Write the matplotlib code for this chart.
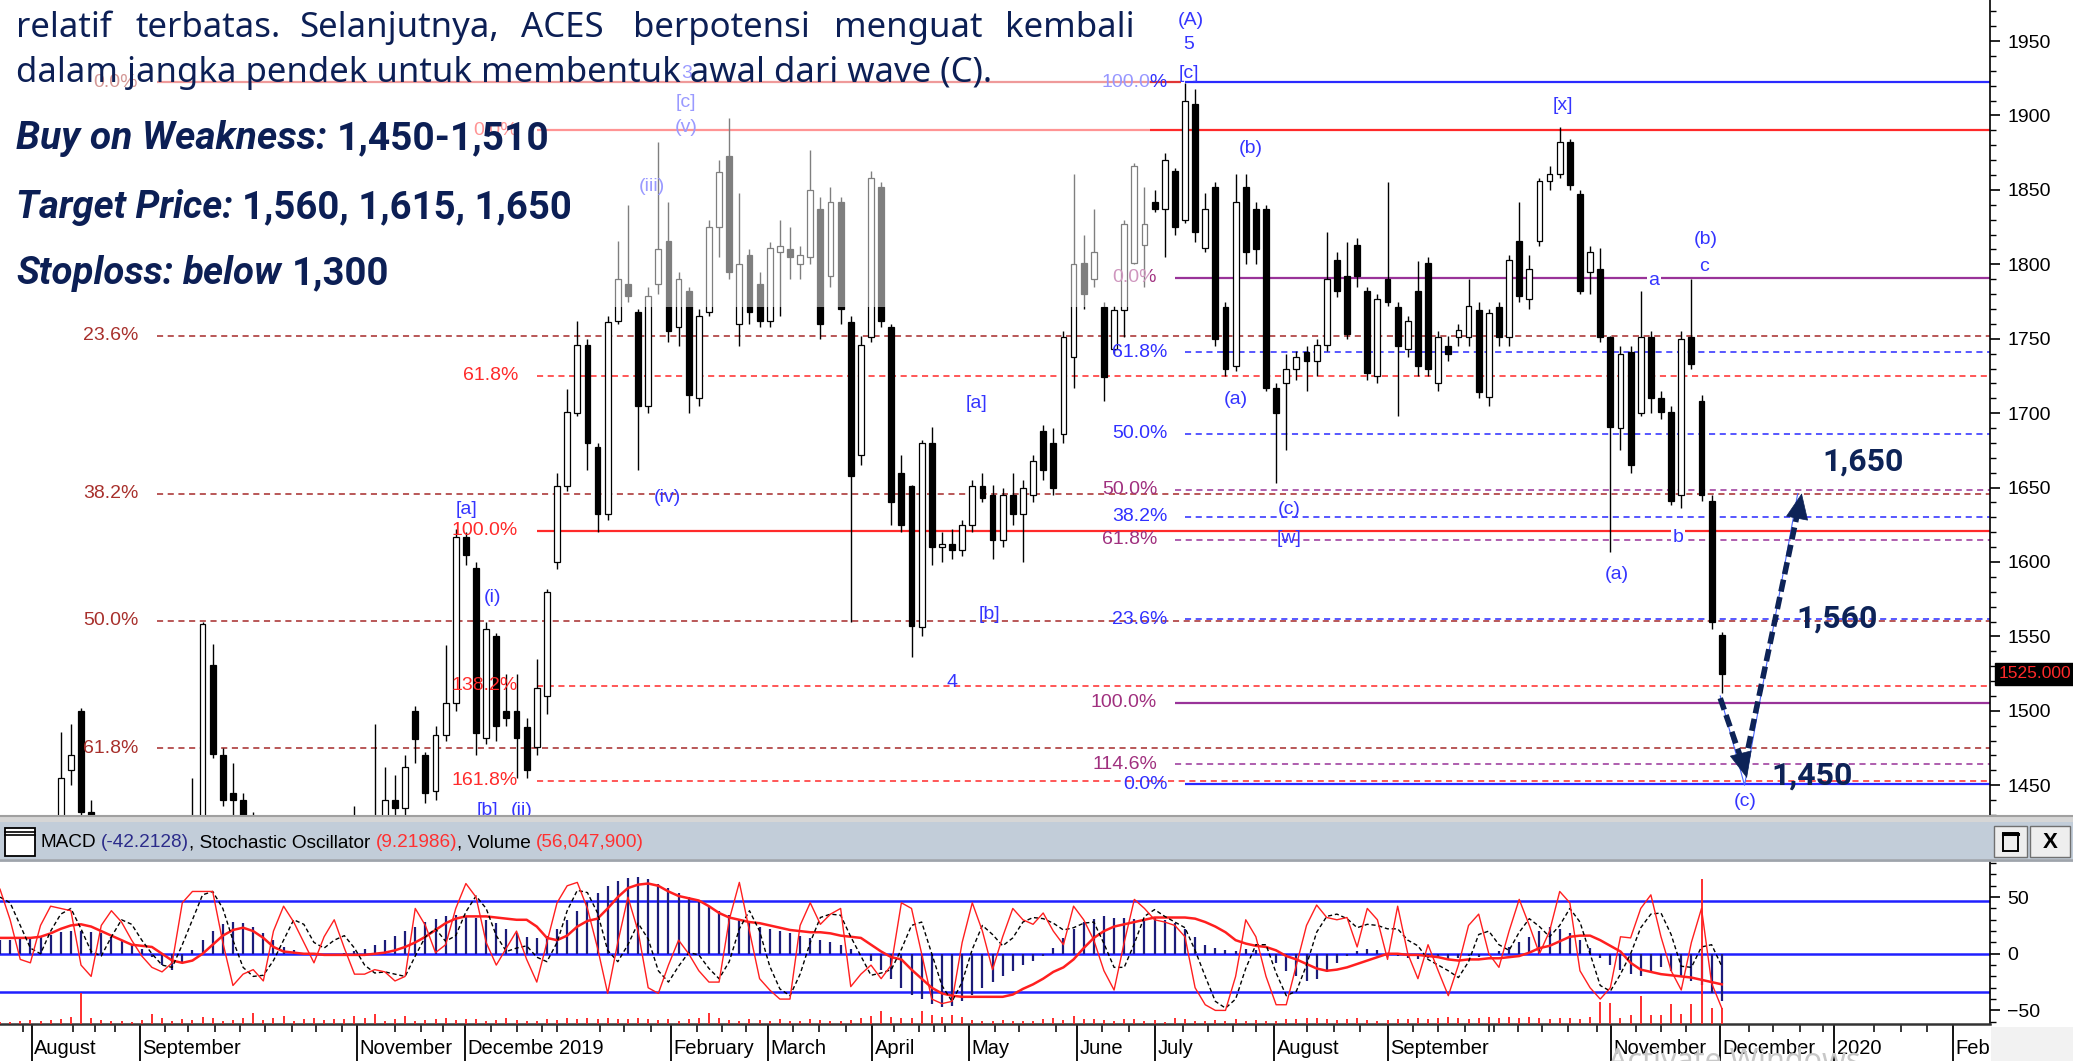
import numpy as np
import matplotlib.pyplot as plt
import matplotlib.transforms as mtransforms
from matplotlib.patches import Rectangle
from matplotlib.lines import Line2D
from matplotlib.ticker import MultipleLocator

plt.rcParams['font.family'] = ['Liberation Sans', 'DejaVu Sans']

# ---------------- data (x = trading-day index, one candle per 2 days) ----------------
opn = [1405, 1410, 1412, 1402, 1410, 1420, 1425, 1460, 1500, 1432, 1410, 1405, 1398, 1402, 1395, 1390, 1398, 1405, 1400, 1415,
       1415, 1531, 1470, 1445, 1440, 1428, 1415, 1405, 1398, 1390, 1395, 1388, 1392, 1400, 1405, 1410, 1418, 1415, 1425, 1440,
       1435, 1500, 1470, 1446, 1484, 1505, 1617, 1596, 1482, 1550, 1500, 1500, 1489, 1476, 1510, 1600, 1651, 1700, 1746, 1677,
       1632, 1762, 1787, 1768, 1705, 1787, 1816, 1758, 1782, 1710, 1768, 1825, 1873, 1760, 1806, 1787, 1762, 1808, 1810, 1800,
       1805, 1837, 1792, 1842, 1761, 1672, 1751, 1852, 1758, 1660, 1651, 1556, 1680, 1610, 1612, 1608, 1625, 1651, 1645, 1615,
       1645, 1632, 1645, 1688, 1680, 1686, 1738, 1801, 1790, 1771, 1743, 1769, 1801, 1813, 1842, 1837, 1863, 1830, 1908, 1811,
       1852, 1771, 1732, 1852, 1837, 1837, 1717, 1720, 1730, 1741, 1735, 1746, 1803, 1792, 1813, 1782, 1725, 1790, 1771, 1743,
       1782, 1801, 1720, 1745, 1751, 1751, 1769, 1711, 1771, 1751, 1816, 1777, 1816, 1856, 1861, 1882, 1847, 1795, 1797, 1751,
       1690, 1741, 1700, 1751, 1710, 1701, 1645, 1751, 1708, 1641, 1551]
high = [1415, 1420, 1418, 1415, 1425, 1428, 1486, 1491, 1502, 1440, 1418, 1415, 1410, 1412, 1405, 1402, 1410, 1418, 1412, 1455,
        1560, 1545, 1475, 1465, 1445, 1432, 1420, 1412, 1408, 1400, 1405, 1398, 1405, 1412, 1420, 1436, 1428, 1491, 1462, 1457,
        1470, 1503, 1472, 1490, 1544, 1622, 1620, 1600, 1560, 1552, 1525, 1525, 1495, 1535, 1582, 1660, 1716, 1762, 1750, 1680,
        1765, 1816, 1840, 1770, 1785, 1882, 1842, 1795, 1785, 1770, 1830, 1870, 1898, 1848, 1810, 1795, 1815, 1830, 1825, 1812,
        1877, 1845, 1852, 1845, 1765, 1752, 1863, 1855, 1760, 1672, 1652, 1682, 1691, 1620, 1622, 1628, 1655, 1660, 1652, 1650,
        1660, 1655, 1672, 1692, 1690, 1755, 1861, 1820, 1837, 1775, 1772, 1830, 1868, 1852, 1850, 1875, 1865, 1922, 1918, 1848,
        1855, 1775, 1861, 1861, 1842, 1840, 1720, 1740, 1742, 1745, 1750, 1822, 1808, 1815, 1818, 1785, 1780, 1855, 1775, 1765,
        1802, 1805, 1755, 1752, 1760, 1790, 1775, 1770, 1775, 1806, 1842, 1806, 1858, 1866, 1892, 1884, 1850, 1812, 1811, 1752,
        1745, 1745, 1782, 1755, 1715, 1705, 1755, 1790, 1712, 1645, 1553]
low = [1395, 1400, 1398, 1395, 1405, 1410, 1420, 1450, 1428, 1400, 1395, 1392, 1388, 1390, 1385, 1380, 1390, 1398, 1392, 1405,
       1410, 1468, 1436, 1425, 1420, 1410, 1400, 1392, 1385, 1378, 1385, 1378, 1385, 1392, 1398, 1405, 1408, 1410, 1415, 1420,
       1428, 1465, 1438, 1440, 1480, 1500, 1598, 1470, 1478, 1480, 1490, 1455, 1455, 1470, 1498, 1595, 1648, 1698, 1662, 1620,
       1628, 1760, 1775, 1662, 1700, 1780, 1748, 1745, 1700, 1705, 1765, 1805, 1790, 1745, 1760, 1758, 1758, 1765, 1790, 1790,
       1800, 1750, 1785, 1760, 1560, 1665, 1748, 1758, 1625, 1620, 1536, 1550, 1598, 1600, 1602, 1604, 1620, 1640, 1602, 1610,
       1625, 1600, 1640, 1655, 1645, 1680, 1717, 1770, 1785, 1708, 1740, 1751, 1800, 1785, 1835, 1805, 1820, 1828, 1815, 1808,
       1745, 1725, 1728, 1800, 1800, 1715, 1653, 1675, 1722, 1715, 1725, 1742, 1778, 1750, 1785, 1722, 1720, 1772, 1698, 1738,
       1725, 1725, 1715, 1735, 1745, 1745, 1710, 1705, 1745, 1745, 1775, 1770, 1812, 1850, 1858, 1850, 1780, 1780, 1748, 1607,
       1675, 1660, 1698, 1700, 1696, 1638, 1636, 1730, 1641, 1555, 1512]
close = [1410, 1412, 1402, 1410, 1420, 1415, 1455, 1470, 1432, 1410, 1405, 1398, 1402, 1395, 1390, 1398, 1405, 1400, 1408, 1410,
         1558, 1471, 1440, 1440, 1428, 1415, 1405, 1398, 1390, 1395, 1388, 1392, 1400, 1405, 1410, 1418, 1415, 1425, 1440, 1435,
         1462, 1481, 1445, 1484, 1505, 1617, 1605, 1485, 1555, 1490, 1495, 1482, 1460, 1515, 1580, 1651, 1701, 1746, 1680, 1632,
         1761, 1790, 1779, 1705, 1779, 1810, 1755, 1790, 1712, 1765, 1825, 1862, 1795, 1800, 1768, 1762, 1811, 1812, 1805, 1806,
         1850, 1760, 1842, 1770, 1658, 1746, 1858, 1762, 1640, 1625, 1557, 1680, 1610, 1612, 1608, 1625, 1651, 1643, 1615, 1645,
         1632, 1650, 1668, 1662, 1650, 1751, 1800, 1780, 1808, 1724, 1769, 1827, 1866, 1827, 1837, 1870, 1825, 1910, 1822, 1837,
         1750, 1730, 1842, 1808, 1810, 1717, 1700, 1730, 1738, 1735, 1746, 1790, 1782, 1753, 1792, 1727, 1777, 1775, 1745, 1762,
         1732, 1730, 1751, 1740, 1756, 1772, 1714, 1767, 1751, 1803, 1779, 1797, 1856, 1861, 1882, 1853, 1782, 1808, 1751, 1691,
         1740, 1665, 1751, 1710, 1701, 1641, 1750, 1733, 1645, 1560, 1525]

macd = [12, 12, 13, 14, 15, 17, 19, 20, 20, 19, 18, 15, 12, 8, 4, -3, -10, -14, -8, 3,
        12, 20, 26, 28, 27, 24, 18, 12, 6, 3, 1, 0, -1, 0, 1, 2, 4, 8, 12, 16,
        20, 24, 28, 31, 33, 34, 33, 32, 30, 27, 22, 18, 15, 14, 16, 22, 30, 38, 46, 54,
        60, 64, 67, 68, 66, 62, 58, 54, 50, 46, 42, 38, 34, 30, 27, 24, 22, 20, 18, 16,
        14, 12, 10, 8, 4, 0, -6, -14, -22, -30, -36, -40, -44, -47, -46, -42, -36, -30, -25, -20,
        -15, -10, -6, -2, 5, 14, 22, 28, 31, 33, 32, 32, 31, 30, 32, 30, 27, 22, 15, 8,
        5, 3, 2, 4, 3, 0, -8, -15, -20, -24, -22, -16, -8, -2, 2, 4, 3, 1, -2, -4,
        -5, -4, -3, -5, -4, -2, -3, -1, 2, 6, 10, 15, 20, 24, 22, 18, 12, 5, -4, -10,
        -14, -18, -20, -17, -12, -15, -20, -24, -28, -35, -42]
signal = [14, 14, 14, 14, 15, 18, 22, 25, 26, 24, 20, 16, 12, 8, 7, 6, 0, -6, -8, -6,
          0, 8, 16, 21, 23, 20, 14, 6, 2, 1, 0, 0, -1, -1, -1, -1, -1, 0, 1, 3,
          6, 10, 15, 21, 27, 31, 33, 33, 33, 32, 31, 30, 30, 24, 14, 12, 16, 24, 29, 31,
          40, 50, 58, 61, 62, 60, 55, 51, 49, 47, 42, 36, 32, 30, 28, 27, 25, 23, 21, 20,
          19, 19, 18, 16, 15, 14, 8, 2, -3, -5, -14, -22, -30, -35, -37, -38, -38, -38, -38, -38,
          -36, -31, -27, -22, -16, -12, -5, 5, 14, 20, 24, 26, 28, 30, 32, 32, 32, 32, 31, 28,
          24, 19, 12, 9, 7, 6, 3, -2, -5, -9, -13, -15, -14, -12, -9, -6, -3, 0, 0, -1,
          -1, -2, -3, -5, -6, -5, -5, -4, -4, -3, -2, 1, 5, 7, 11, 15, 16, 16, 12, 7,
          2, -8, -14, -16, -18, -19, -20, -21, -23, -25, -27]
stoch_k = [57, 30, -5, -8, 25, 42, 40, 38, -10, -20, 25, 38, 28, 12, -2, -12, -16, -8, 45, 55,
           55, 55, 10, -28, -18, -14, -24, 20, 42, 28, 10, -8, 15, 30, 5, -18, -18, -14, -16, -24,
           -20, 40, 25, 1, 8, 40, 62, 50, 10, -10, 5, 20, -5, -25, 10, 45, 60, 63, 40, 5,
           -35, 10, 50, 20, -30, -35, -10, 12, 0, -15, -25, -25, 30, 63, 20, -22, -32, -40, -40, 25,
           45, 26, 35, 40, -29, -18, -10, -22, -10, 45, 40, 0, -40, -44, -42, 10, 45, 20, -14, 15,
           40, 30, 26, 36, 20, 8, 42, 30, 12, -15, -32, 10, 48, 40, 30, 28, 25, 15, -30, -45,
           -50, -50, -20, 30, 15, -20, -45, -45, -10, 25, 43, 32, 30, 32, 6, 40, 30, -5, 42, 0,
           -22, 8, -15, -37, -10, 25, 35, 0, -12, 20, 48, 25, 0, 20, 55, 45, -15, -30, -40, -30,
           15, 14, 40, 52, 15, -15, -32, 10, 40, -26, -48]
stoch_d = [50, 45, 25, 5, 0, 20, 35, 40, 22, 2, -2, 15, 30, 26, 12, 0, -10, -12, 8, 30,
           52, 55, 40, 12, -12, -20, -19, -6, 12, 30, 26, 10, 5, 12, 16, 5, -10, -17, -16, -18,
           -20, -2, 15, 22, 11, 16, 37, 51, 40, 16, 2, 5, 7, -3, -7, 10, 38, 56, 54, 36,
           3, -7, 8, 27, 13, -15, -25, -11, 1, -1, -13, -22, -7, 22, 38, 20, -11, -31, -37, -18,
           10, 32, 35, 34, 15, -2, -19, -17, -14, 4, 25, 28, 0, -28, -42, -25, 4, 25, 17, 7,
           14, 28, 32, 31, 27, 21, 23, 27, 28, 9, -12, -12, 9, 33, 39, 33, 28, 23, 3, -20,
           -42, -48, -40, -13, 8, 8, -17, -37, -33, -10, 19, 33, 35, 31, 23, 26, 25, 22, 22, 12,
           7, -5, -10, -15, -21, -7, 17, 20, 8, 3, 19, 31, 24, 15, 25, 40, 28, 0, -28, -33,
           -18, 0, 23, 35, 36, 17, -11, -12, 6, 8, -11]
volume = [6, 8, 12, 15, 10, 14, 18, 25, 110, 20, 14, 10, 12, 8, 14, 35, 22, 12, 18, 15,
          25, 20, 12, 14, 22, 40, 15, 20, 28, 12, 18, 22, 14, 18, 16, 28, 20, 35, 12, 16,
          29, 10, 14, 18, 22, 14, 18, 16, 12, 14, 20, 14, 10, 12, 18, 15, 22, 16, 20, 18,
          22, 16, 18, 20, 16, 14, 18, 12, 16, 22, 40, 20, 14, 12, 16, 14, 12, 16, 10, 12,
          16, 14, 12, 10, 14, 22, 28, 46, 26, 20, 22, 46, 30, 26, 32, 24, 14, 12, 10, 14,
          12, 10, 12, 16, 20, 14, 29, 18, 16, 14, 12, 16, 18, 10, 14, 8, 22, 16, 12, 10,
          14, 12, 16, 10, 14, 10, 12, 16, 18, 22, 20, 16, 14, 18, 20, 14, 12, 14, 16, 18,
          20, 18, 22, 24, 20, 18, 22, 24, 20, 26, 22, 26, 20, 18, 22, 20, 16, 26, 77, 74,
          20, 30, 100, 31, 33, 70, 35, 70, 510, 56, 56]

last_price = 1525.0

# Fibonacci tools: price levels with their ratio labels
brown_levels = [1922.5, 1752, 1646, 1560.5, 1475]
brown_labels = ['0.0%', '23.6%', '38.2%', '50.0%', '61.8%']
red_levels = [1890, 1725, 1621, 1517, 1453]
red_labels = ['0.0%', '61.8%', '100.0%', '138.2%', '161.8%']
blue_levels = [1922.5, 1741, 1686, 1630.5, 1561.5, 1450.5]
blue_labels = ['100.0%', '61.8%', '50.0%', '38.2%', '23.6%', '0.0%']
purple_levels = [1791, 1648.5, 1615, 1505.5, 1464]
purple_labels = ['0.0%', '50.0%', '61.8%', '100.0%', '114.6%']

# Elliott wave labels (x index, price, text)
wave_x = [235.2, 234.8, 234.8, 135.5, 135.5, 135.5, 128.8, 131.7, 192.9, 195.3, 188.0, 92.2, 97.2, 96.2, 103.1,
          247.0, 244.1, 254.5, 254.5, 308.7, 319.3, 336.9, 336.5, 344.6]
wave_y = [1964, 1948, 1928.5, 1928.5, 1909, 1892, 1852.6, 1643, 1706.8, 1565, 1519.3, 1635.5, 1576.4, 1433.2, 1433.2,
          1878, 1709.5, 1635, 1616, 1906.4, 1591.8, 1817, 1798.8, 1439.3]
wave_txt = ['(A)', '5', '[c]', '3', '[c]', '(v)', '(iii)', '(iv)', '[a]', '[b]', '4', '[a]', '(i)', '[b]', '(ii)',
            '(b)', '(a)', '(c)', '[w]', '[x]', '(a)', '(b)', 'c', '(c)']

targets = ['1,650', '1,560', '1,450']
target_x = [367.9, 362.8, 357.8]
target_y = [1667.8, 1562.3, 1456.8]

month_pos = [6.3, 27.6, 70.5, 91.8, 132.5, 151.7, 172.2, 191.3, 212.7, 228.1, 251.6, 274.1, 318.1, 339.7, 362.2, 385.7]
month_names = ['August', 'September', 'November', 'Decembe', 'February', 'March', 'April', 'May', 'June', 'July',
               'August', 'September', 'November', 'December', '2020', 'Feb']
week_pos = [4.6, 14.4, 18.7, 22.8, 32.6, 37.2, 42.4, 47.4, 52.4, 57.7, 62.4, 67.6, 78, 83.1, 87.4, 96.9, 102, 107, 110,
            118.5, 123.3, 128.5, 137.7, 142.6, 147.4, 156.6, 161.8, 167, 176.5, 181.4, 184.4, 186.6, 196.5, 201.3,
            208.5, 217.7, 222.9, 233.6, 238.6, 243.4, 248.1, 258.1, 263.4, 268.6, 279.0, 284, 289.2, 294, 295, 299.7,
            304.6, 309.7, 315.4, 323, 328, 333, 345.3, 350.2, 355.4, 360, 370.1, 375.3, 380.5]

# ---------------- figure ----------------
W, H = 2073, 1061
fig = plt.figure(figsize=(W / 100, H / 100), dpi=100)
fig.patch.set_facecolor('white')


def fx(px):
    return px / W


def fy(py):
    return 1 - py / H


XMAX = 1990 / 5.064
ax = fig.add_axes([0, fy(815), fx(1990), 815 / H])
axi = fig.add_axes([0, fy(1024), fx(1990), (1024 - 862) / H])

o, hi, lo, c = map(np.array, (opn, high, low, close))
x = np.arange(len(c)) * 2
up = c >= o
ax.vlines(x, lo, hi, color='black', lw=1.0, zorder=2)
ax.bar(x, np.maximum(np.abs(c - o), 1.5), bottom=np.minimum(o, c), width=1.15,
       color=np.where(up, 'white', 'black'), edgecolor='black', linewidth=0.9, zorder=3)

# fib tools: (levels, labels, line colour, label colour, x start, label right edge)
tools = [
    (brown_levels, brown_labels, '#a52a2a', '#a8302c', 31.0, 27.3),
    (red_levels, red_labels, '#ff2a2a', '#ff2a2a', 106.0, 102.3),
    (blue_levels, blue_labels, '#2a2aff', '#3030ff', 234.0, 230.5),
    (purple_levels, purple_labels, '#993399', '#a0307f', 232.0, 228.5),
]
for levels, labels, col, lcol, xs, lx in tools:
    for p, lab in zip(levels, labels):
        solid = lab in ('0.0%', '100.0%')
        xe = XMAX
        lc = col
        if col == '#a52a2a' and solid:
            xe, lc = 233.2, '#e03535'
        if solid:
            ax.hlines(p, xs, xe, color=lc, lw=1.6, zorder=1.5)
        else:
            ax.hlines(p, xs, xe, color=lc, lw=1.1, linestyles=(0, (4, 3)), zorder=1.5)
        ax.text(lx, p, lab, ha='right', va='center', fontsize=14, color=lcol, zorder=4)

for wx, wy, t in zip(wave_x, wave_y, wave_txt):
    ax.text(wx, wy, t, ha='center', va='center', fontsize=14, color='#3535ff', zorder=4)
ax.text(326.6, 1789.4, 'a', ha='center', va='center', fontsize=14, color='#3535ff', zorder=4,
        bbox=dict(fc='white', ec='none', pad=1))
ax.text(331.4, 1616.7, 'b', ha='center', va='center', fontsize=14, color='#3535ff', zorder=4,
        bbox=dict(fc='white', ec='none', pad=1))

BOLDF = ['Roboto', 'Liberation Sans', 'DejaVu Sans']
navy = '#0d2357'
ax.plot([339.7, 344.5, 355.0], [1510, 1450, 1646], color='#4a66ff', lw=0.8, zorder=7)
ax.plot([339.7, 344.4], [1508.5, 1462], color=navy, lw=4, ls=(0, (2.2, 1.0)), zorder=8)
ax.plot([345.2, 354.9], [1474.9, 1632], color=navy, lw=4, ls=(0, (2.2, 1.0)), zorder=8)
head = dict(arrowstyle='-|>,head_length=0.8,head_width=0.35', color=navy, lw=0.5, mutation_scale=22)
ax.annotate('', xy=(345.1, 1453), xytext=(344.0, 1468), arrowprops=head, zorder=8)
ax.annotate('', xy=(355.9, 1648), xytext=(354.9, 1630), arrowprops=head, zorder=8)
for t, tx, ty in zip(targets, target_x, target_y):
    ax.text(tx, ty, t, ha='center', va='center', fontsize=23, fontweight='bold', color=navy,
            family=BOLDF, zorder=9)

# translucent text panel
ax.add_patch(Rectangle((0, 1 - 307 / 815), 1150 / 1990, 307 / 815, transform=ax.transAxes,
                       facecolor='white', alpha=0.5, edgecolor='none', zorder=10))

ax.set_xlim(0, XMAX)
ax.set_ylim(1430, 1977.6)
ax.set_xticks([])
ax.yaxis.tick_right()
ax.set_yticks(np.arange(1450, 1951, 50))
ax.yaxis.set_minor_locator(MultipleLocator(10))
ax.tick_params(axis='y', which='major', direction='out', length=7.5, width=1.2, labelsize=14, pad=5)
ax.tick_params(axis='y', which='minor', direction='out', length=4, width=1.0)
for s in ('left', 'top', 'bottom'):
    ax.spines[s].set_visible(False)
ax.spines['right'].set_linewidth(1.2)
blend = mtransforms.blended_transform_factory(ax.transAxes, ax.transData)
ax.text(1.0045, last_price, f'{last_price:.3f}', transform=blend, ha='left', va='center', fontsize=12.5,
        color='#ff2a2a', bbox=dict(fc='black', ec='black', pad=2.5), clip_on=False, zorder=12)

# ---------------- indicator panel ----------------
xi = np.arange(len(macd)) * 2
axi.axhline(47, color='#2020ff', lw=1.8, zorder=1)
axi.axhline(0, color='#2020ff', lw=1.8, zorder=1)
axi.axhline(-34, color='#2020ff', lw=1.8, zorder=1)
axi.vlines(xi, 0, macd, color='#1c1c7a', lw=1.6, zorder=2)
axi.plot(np.arange(len(signal)) * 2, signal, color='#ff1f1f', lw=1.8, zorder=3)
axi.plot(np.arange(len(stoch_d)) * 2, stoch_d, color='black', lw=1.0, ls=(0, (3, 2)), zorder=3)
axi.plot(np.arange(len(stoch_k)) * 2, stoch_k, color='#ff1f1f', lw=1.0, zorder=4)
axv = axi.twinx()
axv.vlines(np.arange(len(volume)) * 2, 0, volume, color='#ff1f1f', lw=1.3)
axv.set_ylim(0, 570)
axv.set_axis_off()
axi.set_xlim(0, XMAX)
axv.set_xlim(0, XMAX)
axi.set_ylim(-62, 81)
axi.yaxis.tick_right()
axi.set_yticks([-50, 0, 50])
axi.yaxis.set_minor_locator(MultipleLocator(10))
axi.tick_params(axis='y', which='major', direction='out', length=7.5, width=1.2, labelsize=14, pad=5)
axi.tick_params(axis='y', which='minor', direction='out', length=4, width=1.0)
axi.set_xticks(month_pos)
axi.set_xticks(week_pos, minor=True)
axi.set_xticklabels([])
axi.tick_params(axis='x', which='major', direction='out', length=27, width=1.3)
axi.tick_params(axis='x', which='minor', direction='out', length=6, width=1.1)
for s in ('left', 'top'):
    axi.spines[s].set_visible(False)
axi.spines['right'].set_linewidth(1.2)
axi.spines['bottom'].set_linewidth(1.8)
axi.spines['bottom'].set_color('#333333')
bx = mtransforms.blended_transform_factory(axi.transData, axi.transAxes)
for mp, mn in zip(month_pos, month_names):
    axi.text(mp + 0.5, -24 / 162, mn, transform=bx, ha='left', va='center', fontsize=14.5, clip_on=False)
axi.text(110.4, -24 / 162, '2019', transform=bx, ha='left', va='center', fontsize=14.5, clip_on=False)

# ---------------- window chrome ----------------
def frect(x0, y0, x1, y1, **kw):
    fig.add_artist(Rectangle((fx(x0), fy(y1)), (x1 - x0) / W, (y1 - y0) / H, transform=fig.transFigure, **kw))


frect(0, 815, W, 822, fc='#d6d6d6', ec='none')
fig.add_artist(Line2D([0, 1], [fy(816), fy(816)], color='#a0a0a0', lw=1.5))
frect(0, 822, W, 859, fc='#c2cdd9', ec='none')
fig.add_artist(Line2D([0, 1], [fy(860), fy(860)], color='#9ea4ab', lw=2))
frect(5, 828, 35, 856, fc='white', ec='black', lw=1.3)
fig.add_artist(Line2D([fx(5), fx(35)], [fy(832), fy(832)], color='black', lw=1.2))
fig.add_artist(Line2D([fx(5), fx(35)], [fy(835), fy(835)], color='black', lw=1.2))
frect(1994, 826, 2027, 857, fc='#eeeeee', ec='#707070', lw=1)
frect(2003, 833, 2018, 851, fc='none', ec='black', lw=1.4)
fig.add_artist(Line2D([fx(2003), fx(2018)], [fy(834), fy(834)], color='black', lw=2.2))
frect(2030, 826, 2070, 857, fc='#eeeeee', ec='#707070', lw=1)
fig.text(fx(2050), fy(842), 'X', ha='center', va='center', fontsize=16, fontweight='bold')
frect(1991, 1027, W, H, fc='#f2f2f2', ec='none')
fig.text(fx(1608), fy(1047), 'Activate Windows', ha='left', va='top', fontsize=22, color='#c8c8c8',
         family=['Noto Sans', 'DejaVu Sans'])

# header caption
r = fig.canvas.get_renderer()


def width_px(s, **kw):
    t = fig.text(0, 0, s, **kw)
    w = t.get_window_extent(renderer=r).width
    t.remove()
    return w


def run_widths(runs, size):
    ws = []
    for s, props, gap in runs:
        w = width_px(s, fontsize=size, **props)
        if gap:
            w += width_px('a a', fontsize=size, **props) - width_px('aa', fontsize=size, **props)
        ws.append(w)
    return ws


def put_runs(x0, base, runs, target):
    size = 20 * target / sum(run_widths(runs, 20))
    xx = x0
    for (s, props, gap), w in zip(runs, run_widths(runs, size)):
        fig.text(fx(xx), fy(base), s, fontsize=size, ha='left', va='baseline', **props)
        xx += w
    return size


blk = dict(color='black')
put_runs(40, 847, [('MACD', blk, True), ('(-42.2128)', dict(color='#2b2b8a'), False),
                   (', Stochastic Oscillator', blk, True), ('(9.21986)', dict(color='#ff3030'), False),
                   (', Volume', blk, True), ('(56,047,900)', dict(color='#ff3030'), False)], 607)

# commentary text
TXT = '#0c1f55'
NS = ['Noto Sans', 'DejaVu Sans']
reg = dict(color=TXT, family=NS)
size2 = put_runs(16, 82, [('dalam jangka pendek untuk membentuk awal dari wave (C).', reg, False)], 976)
line1 = ['relatif', 'terbatas.', 'Selanjutnya,', 'ACES', 'berpotensi', 'menguat', 'kembali']
line1_x = [16, 136, 299, 521, 633, 834, 1005]
for wd, wx in zip(line1, line1_x):
    fig.text(fx(wx), fy(37), wd, fontsize=size2, ha='left', va='baseline', **reg)
bi = dict(color=TXT, family=BOLDF, fontweight='bold', fontstyle='italic')
bd = dict(color=TXT, family=BOLDF, fontweight='bold')
put_runs(16, 149, [('Buy on Weakness:', bi, True), ('1,450-1,510', bd, False)], 532)
put_runs(16, 218, [('Target Price:', bi, True), ('1,560, 1,615, 1,650', bd, False)], 555)
put_runs(16, 284, [('Stoploss:', bi, True), ('below', bi, True), ('1,300', bd, False)], 373)

fig.savefig('out.png', dpi=100)
